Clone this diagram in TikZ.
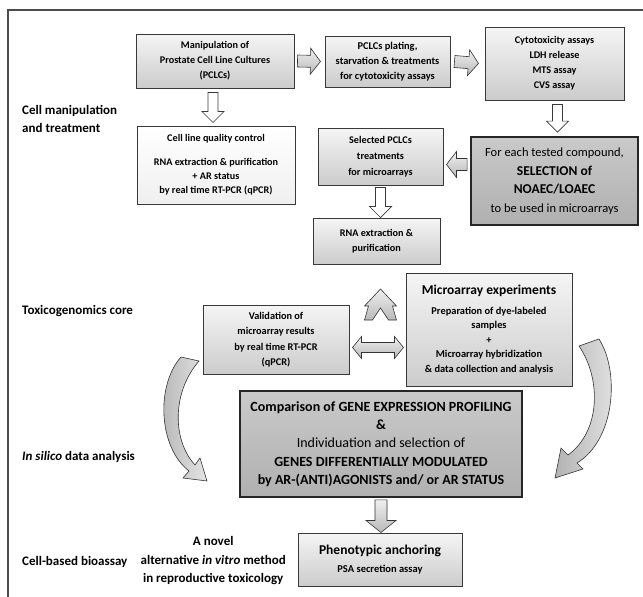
\documentclass[tikz,border=0pt]{standalone}
\usepackage{fontspec}
\setmainfont{Carlito}
\usetikzlibrary{calc}
\newcommand\blockarrow[6]{%
  \coordinate (baC) at ($(#3)!#6!(#2)$);
  \path[#1] ($(#2)!#4!90:(#3)$) -- ($(baC)!#4!-90:(#2)$) -- ($(baC)!#5!-90:(#2)$) -- (#3)
    -- ($(baC)!#5!90:(#2)$) -- ($(baC)!#4!90:(#2)$) -- ($(#2)!#4!-90:(#3)$) -- cycle;}
\newcommand\dblarrow[6]{%
  \coordinate (daC) at ($(#2)!#6!(#3)$);
  \coordinate (daD) at ($(#3)!#6!(#2)$);
  \path[#1] (#2) -- ($(daC)!#5!90:(#3)$) -- ($(daC)!#4!90:(#3)$) -- ($(daD)!#4!-90:(#2)$)
    -- ($(daD)!#5!-90:(#2)$) -- (#3) -- ($(daD)!#5!90:(#2)$) -- ($(daD)!#4!90:(#2)$)
    -- ($(daC)!#4!-90:(#3)$) -- ($(daC)!#5!-90:(#3)$) -- cycle;}
\tikzset{
  box/.style={draw=gray!45!black, line width=1pt, top color=gray!8, bottom color=gray!40,
    align=center, inner sep=1pt, font=\bfseries\fontsize{10.2}{15}\selectfont},
  wbox/.style={box, top color=white, bottom color=gray!12},
  dbox/.style={box, draw=black!85, line width=1.8pt, top color=gray!42, bottom color=gray!62},
  lbl/.style={font=\bfseries\fontsize{13}{18}\selectfont, align=left, anchor=west, inner sep=0pt},
  garrow/.style={draw=gray!40!black, line width=0.6pt, top color=gray!12, bottom color=gray!55},
  harrow/.style={draw=gray!45!black, line width=0.7pt, fill=white},
  carrow/.style={draw=gray!40!black, line width=0.6pt, left color=gray!60, right color=gray!20},
}
\begin{document}
\begin{tikzpicture}[x=1pt,y=-1pt]
\useasboundingbox (0,0) rectangle (643,597);
\fill[white] (0,0) rectangle (643,597);
\draw[gray!60!black, line width=1.4pt] (8,597) -- (8,10) -- (643,10);

% boxes
\node[box, minimum width=158, minimum height=54] (b1) at (215,61)
  {Manipulation of\\Prostate Cell Line Cultures\\(PCLCs)};
\node[box, minimum width=125, minimum height=51, font=\bfseries\fontsize{10.4}{15}\selectfont] (b2) at (387.5,61.5)
  {PCLCs plating,\\starvation \& treatments\\for cytotoxicity assays};
\node[box, minimum width=139, minimum height=73] (b3) at (554.5,63.5)
  {Cytotoxicity assays\\LDH release\\MTS assay\\CVS assay};
\node[wbox, minimum width=158, minimum height=78, font=\bfseries\fontsize{10.2}{14}\selectfont] (b4) at (216,165)
  {Cell line quality control\\[10pt]RNA extraction \& purification\\+ AR status\\by real time RT-PCR (qPCR)};
\node[box, minimum width=125, minimum height=57, font=\bfseries\fontsize{10.2}{16}\selectfont] (b5) at (380.5,156.5)
  {Selected PCLCs\\treatments\\for microarrays};
\node[dbox, minimum width=167, minimum height=88, font=\fontsize{12.5}{18.5}\selectfont] (b6) at (554.5,181)
  {For each tested compound,\\{\bfseries\fontsize{13.5}{18.5}\selectfont SELECTION of}\\{\bfseries\fontsize{13.5}{18.5}\selectfont NOAEC/LOAEC}\\to be used in microarrays};
\node[box, minimum width=127, minimum height=46] (b7) at (376.5,241)
  {RNA extraction \&\\purification};
\node[box, minimum width=166, minimum height=113, font=\bfseries\fontsize{10.4}{14.5}\selectfont] (b8) at (489,329.5)
  {{\fontsize{13.5}{16}\selectfont Microarray experiments}\\[5pt]Preparation of dye-labeled\\samples\\+\\Microarray hybridization\\\& data collection and analysis};
\node[box, minimum width=146, minimum height=69, font=\bfseries\fontsize{10.3}{15.5}\selectfont] (b9) at (276,339.5)
  {Validation of\\microarray results\\by real time RT-PCR\\(qPCR)};
\node[dbox, minimum width=282, minimum height=106, font=\bfseries\fontsize{14}{18.3}\selectfont] (b10) at (381,444)
  {Comparison of GENE EXPRESSION PROFILING\\\&\\{\mdseries Individuation and selection of}\\GENES DIFFERENTIALLY MODULATED\\by AR-(ANTI)AGONISTS and/ or AR STATUS};
\node[box, minimum width=164, minimum height=53, font=\bfseries\fontsize{13.5}{17}\selectfont] (b11) at (380,559.5)
  {Phenotypic anchoring\\[1pt]{\fontsize{10.5}{12}\selectfont PSA secretion assay}};

% labels
\node[lbl] (l1) at (22,119) {Cell manipulation\\and treatment};
\node[lbl] (l2) at (22,311) {Toxicogenomics core};
\node[lbl] (l3) at (22,457) {\textit{In silico} data analysis};
\node[lbl] (l4) at (22,562) {Cell-based bioassay};
\node[align=center, anchor=east, inner sep=0pt, font=\bfseries\fontsize{13}{18.5}\selectfont] (l5) at (286,561)
  {A novel\\alternative \textit{in vitro} method\\in reproductive toxicology};

% straight block arrows
\coordinate (r1a) at ($(b1.east)+(3,0)$);  \coordinate (r1b) at ($(b2.west)+(-4,0)$);
\blockarrow{garrow}{r1a}{r1b}{6pt}{13pt}{10pt}
\coordinate (r2a) at ($(b2.east)+(4,0)$);  \coordinate (r2b) at ($(b3.west)+(-6,0)$);
\blockarrow{garrow}{r2a}{r2b}{6pt}{13pt}{10pt}
\coordinate (d1a) at ($(b1.south)+(-2,4)$); \coordinate (d1b) at ($(b1.south|-b4.north)+(-2,-3)$);
\blockarrow{harrow}{d1a}{d1b}{5pt}{11pt}{11pt}
\coordinate (d2a) at ($(b3.south)+(3,4)$); \coordinate (d2b) at ($(b3.south|-b6.north)+(3,-4)$);
\blockarrow{harrow}{d2a}{d2b}{5pt}{11pt}{11pt}
\coordinate (l1a) at ($(b6.west|-b5.east)+(-3,8)$); \coordinate (l1b) at ($(b5.east)+(3,8)$);
\blockarrow{garrow}{l1a}{l1b}{6pt}{13pt}{10pt}
\coordinate (d3a) at ($(b5.south)+(0,2)$); \coordinate (d3b) at ($(b5.south|-b7.north)+(0,0)$);
\blockarrow{harrow}{d3a}{d3b}{5pt}{11pt}{11pt}
\coordinate (d4a) at ($(b10.south)+(0,2)$); \coordinate (d4b) at ($(b10.south|-b11.north)+(0,0)$);
\blockarrow{garrow}{d4a}{d4b}{6pt}{15pt}{12pt}
\coordinate (dba) at ($(b9.east)+(3,8)$); \coordinate (dbb) at ($(b8.west|-b9.east)+(-2,8)$);
\dblarrow{garrow}{dba}{dbb}{5pt}{11pt}{9pt}

% chevron (up) arrow
\coordinate (chev) at (380.5,289);
\path[garrow] (chev) -- ++(16,17) -- ++(-4,0) -- ++(4,14) -- ++(-8,0) -- ++(-8,-12)
  -- ++(-8,12) -- ++(-8,0) -- ++(4,-14) -- ++(-4,0) -- cycle;

% curved arrows
\path[carrow] (181,357) .. controls (156,385) and (158,447) .. (189,471) -- (183,478) -- (207,481)
  -- (200,458) -- (195,465) .. controls (172,440) and (172,392) .. (199,361) -- cycle;
\path[carrow] (599,339) .. controls (620,372) and (615,440) .. (577,463) -- (583,469) -- (555,478)
  -- (561,448) -- (568,455) .. controls (600,432) and (602,380) .. (579,346) -- cycle;
\end{tikzpicture}
\end{document}
